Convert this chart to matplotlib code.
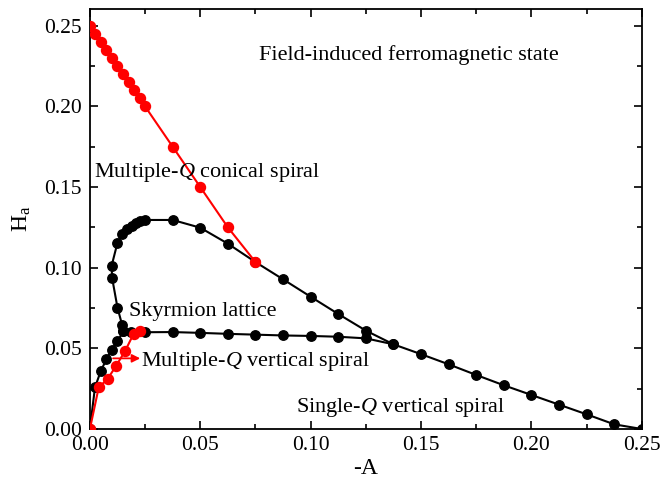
import matplotlib
matplotlib.use("Agg")
import matplotlib.pyplot as plt
from matplotlib.ticker import MultipleLocator

plt.rcParams['font.family'] = ['Liberation Serif', 'DejaVu Serif']
plt.rcParams['mathtext.fontset'] = 'custom'
plt.rcParams['mathtext.rm'] = 'Liberation Serif'
plt.rcParams['mathtext.it'] = 'Liberation Serif:italic'

# Red: conical / field-induced FM boundary
red_up_x = [0, 0.0025, 0.005, 0.0075, 0.01, 0.0125, 0.015, 0.0175, 0.02, 0.0225, 0.025,
            0.0375, 0.05, 0.0625, 0.075]
red_up_y = [0.25, 0.245, 0.24, 0.235, 0.23, 0.225, 0.22, 0.215, 0.21, 0.205, 0.2,
            0.175, 0.15, 0.125, 0.1035]

# Black: skyrmion dome continuing into single-Q boundary
dome_x = [0.0151, 0.0146, 0.0125, 0.0101, 0.0098, 0.0125, 0.0146, 0.0169, 0.0189, 0.0207,
          0.0226, 0.0249, 0.0375, 0.05, 0.0625, 0.075, 0.0875, 0.1, 0.1125, 0.125,
          0.1375, 0.15, 0.1625, 0.175, 0.1875, 0.2, 0.2125, 0.225, 0.2375, 0.25]
dome_y = [0.0608, 0.0645, 0.0752, 0.0934, 0.101, 0.1155, 0.1207, 0.1238, 0.126, 0.1275,
          0.1288, 0.1296, 0.1296, 0.1248, 0.1149, 0.1035, 0.0928, 0.082, 0.0713, 0.061,
          0.0525, 0.0464, 0.0401, 0.0335, 0.0271, 0.0211, 0.0151, 0.0091, 0.0029, 0.0]

# Black: lower boundary of skyrmion lattice
low_x = [0, 0.0023, 0.005, 0.0075, 0.0098, 0.0125, 0.0151, 0.0185, 0.025, 0.0375, 0.05,
         0.0625, 0.075, 0.0875, 0.1, 0.1125, 0.125, 0.1375]
low_y = [0, 0.0258, 0.0362, 0.0432, 0.049, 0.0543, 0.0606, 0.0600, 0.0600, 0.0601, 0.0596,
         0.0590, 0.0585, 0.0580, 0.0577, 0.0572, 0.0562, 0.0525]

# Red: multiple-Q vertical spiral boundary
red_low_x = [0, 0.004, 0.008, 0.0118, 0.016, 0.0198, 0.0225]
red_low_y = [0, 0.0258, 0.031, 0.039, 0.0485, 0.059, 0.061]

fig = plt.figure(figsize=(6.61, 4.78), dpi=100)
ax = fig.add_axes([0.136, 0.1025, 0.835, 0.878])

ms = 6.8
ax.plot(dome_x, dome_y, '-o', color='black', lw=1.5, ms=ms, zorder=2)
ax.plot(low_x, low_y, '-o', color='black', lw=1.5, ms=ms, zorder=2)
ax.plot(red_up_x, red_up_y, '-o', color='#ff0000', lw=1.5, ms=ms + 0.4, zorder=3)
ax.plot(red_low_x, red_low_y, '-o', color='#ff0000', lw=1.5, ms=ms + 0.4, zorder=3)

ax.annotate('', xy=(0.0228, 0.0438), xytext=(0.0105, 0.0438),
            arrowprops=dict(arrowstyle='-|>', color='#ff0000', lw=1.3,
                            mutation_scale=12, shrinkA=0, shrinkB=0), zorder=4)

fs = 16
ax.text(0.1447, 0.2319, 'Field-induced ferromagnetic state', fontsize=fs, ha='center', va='center')
ax.text(0.0018, 0.1593, r'Multiple-$Q$ conical spiral', fontsize=fs, ha='left', va='center')
ax.text(0.0177, 0.0727, 'Skyrmion lattice', fontsize=fs, ha='left', va='center')
ax.text(0.0232, 0.0418, r'Multiple-$Q$ vertical spiral', fontsize=fs, ha='left', va='center')
ax.text(0.0933, 0.0136, r'Single-$Q$ vertical spiral', fontsize=fs, ha='left', va='center')

ax.set_xlim(0, 0.25)
ax.set_ylim(0, 0.2602)
ax.xaxis.set_major_locator(MultipleLocator(0.05))
ax.xaxis.set_minor_locator(MultipleLocator(0.025))
ax.yaxis.set_major_locator(MultipleLocator(0.05))
ax.yaxis.set_minor_locator(MultipleLocator(0.025))
ax.xaxis.set_major_formatter(plt.FormatStrFormatter('%.2f'))
ax.yaxis.set_major_formatter(plt.FormatStrFormatter('%.2f'))
ax.tick_params(which='both', direction='in', top=True, right=True, labelsize=15.5, width=1.2)
ax.tick_params(which='major', length=6)
ax.tick_params(axis='y', which='major', pad=6)
ax.tick_params(axis='x', which='major', pad=5)
ax.tick_params(which='minor', length=3.5)
for s in ax.spines.values():
    s.set_linewidth(1.3)

ax.set_xlabel('-A', fontsize=17, labelpad=2)
ax.set_ylabel(r'H$_\mathrm{a}$', fontsize=17, labelpad=8)

fig.savefig('out.png', dpi=100)
